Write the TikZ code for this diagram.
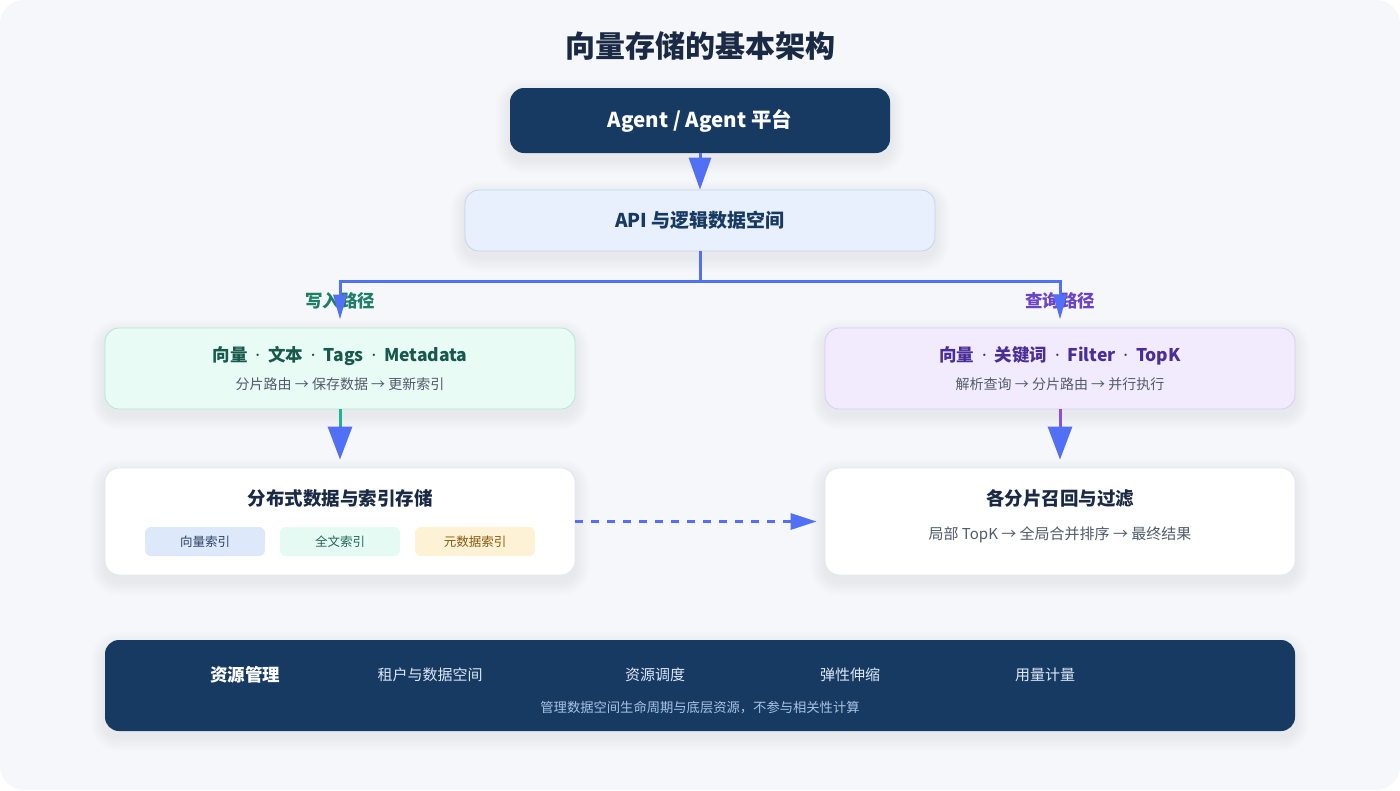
\documentclass[tikz,border=0pt]{standalone}
\usepackage{fontspec}
\setmainfont{Noto Sans CJK SC}
\newfontfamily\lat{Noto Sans}
\usetikzlibrary{arrows.meta,backgrounds}
\definecolor{bgc}{HTML}{F5F7FB}
\definecolor{navy}{HTML}{173A63}
\definecolor{titlec}{HTML}{1B2A44}
\definecolor{arrowc}{HTML}{5170F6}
\definecolor{apifill}{HTML}{E8F0FD}
\definecolor{apiline}{HTML}{C3D4EE}
\definecolor{wfill}{HTML}{E8FBF5}
\definecolor{wline}{HTML}{B5E6D5}
\definecolor{wtitle}{HTML}{17594C}
\definecolor{wlabel}{HTML}{1D7F68}
\definecolor{qfill}{HTML}{F1EBFD}
\definecolor{qline}{HTML}{D8CDF3}
\definecolor{qtitle}{HTML}{4A2D97}
\definecolor{qlabel}{HTML}{6B45C7}
\definecolor{subc}{HTML}{515B6B}
\definecolor{cardline}{HTML}{E2E7EF}
\definecolor{glinec}{HTML}{1DB492}
\definecolor{plinec}{HTML}{8B4FDC}
\definecolor{pillA}{HTML}{DDE8FB}
\definecolor{pillB}{HTML}{E5FAF3}
\definecolor{pillC}{HTML}{FDF1D6}
\definecolor{pillAt}{HTML}{2D3F63}
\definecolor{pillBt}{HTML}{1D6656}
\definecolor{pillCt}{HTML}{8A5A0E}
\definecolor{barlab}{HTML}{DCE7F7}
\definecolor{barsub}{HTML}{A8C3E6}
\newcommand\mkshadow[1]{%
  \foreach \s in {2,4,...,14} {%
    \fill[black,opacity=0.009,rounded corners=14pt+\s*1pt]
      ([shift={(-\s,-\s+6)}]#1.north west) rectangle ([shift={(\s,\s+6)}]#1.south east);}}
\newcommand\dotsep{\hspace{0.45em}{\lat\bfseries ·}\hspace{0.45em}}
\begin{document}
\begin{tikzpicture}[x=1pt,y=-1pt,
  card/.style={rounded corners=14pt,minimum width=470pt,inner sep=0pt,line width=0.8pt},
  arrbig/.style={draw=arrowc,line width=3pt,-{Triangle[length=33pt,width=24pt]}},
  arrsmall/.style={draw=arrowc,line width=3pt,-{Triangle[length=25pt,width=13pt]}},
  arrdash/.style={draw=arrowc,line width=3pt,dash pattern=on 8pt off 8pt,-{Triangle[length=26pt,width=16pt]}},
  pill/.style={rounded corners=6pt,minimum width=120pt,minimum height=29pt,inner sep=0pt,font=\fontsize{12.5}{15}\selectfont},
  boxtitle/.style={font=\bfseries\fontsize{17.5}{20}\selectfont,inner sep=0pt},
  boxsub/.style={font=\fontsize{14}{17}\selectfont,text=subc,inner sep=0pt},
  cardtitle/.style={font=\bfseries\fontsize{18.5}{22}\selectfont,text=titlec,inner sep=0pt},
  barlabel/.style={font=\fontsize{15}{18}\selectfont,text=barlab,inner sep=0pt},
  pathlabel/.style={font=\bfseries\fontsize{17.5}{21}\selectfont,inner sep=0pt}
]
\useasboundingbox (0,0) rectangle (1400,790);

% title
\node[font=\bfseries\fontsize{30}{36}\selectfont,text=titlec] (title) at (700,46) {向量存储的基本架构};

% top boxes
\node[card,fill=navy,minimum width=380pt,minimum height=65pt,text=white,font=\bfseries\fontsize{20.5}{24}\selectfont] (agent) at (700,120.5) {Agent / Agent 平台};
\node[card,fill=apifill,draw=apiline,minimum height=61pt,text=navy,font=\bfseries\fontsize{19}{23}\selectfont] (api) at (700,220.5) {API 与逻辑数据空间};

% write / query boxes
\node[card,fill=wfill,draw=wline,minimum height=81pt] (write) at (340,368.5) {};
\node[boxtitle,text=wtitle] (wt) at (340,356) {向量\dotsep 文本\dotsep Tags\dotsep Metadata};
\node[boxsub] (ws) at (340,384) {分片路由 → 保存数据 → 更新索引};

\node[card,fill=qfill,draw=qline,minimum height=81pt] (query) at (1060,368.5) {};
\node[boxtitle,text=qtitle] (qt) at (1060,356) {向量\dotsep 关键词\dotsep Filter\dotsep TopK};
\node[boxsub] (qs) at (1060,384) {解析查询 → 分片路由 → 并行执行};

% storage / recall boxes
\node[card,fill=white,draw=cardline,minimum height=107pt] (storage) at (340,521.5) {};
\node[cardtitle] (st) at (340,498) {分布式数据与索引存储};
\node[pill,fill=pillA,text=pillAt] (p1) at (205,541.5) {向量索引};
\node[pill,fill=pillB,text=pillBt] (p2) at (340,541.5) {全文索引};
\node[pill,fill=pillC,text=pillCt] (p3) at (475,541.5) {元数据索引};

\node[card,fill=white,draw=cardline,minimum height=107pt] (recall) at (1060,521.5) {};
\node[cardtitle] (rt) at (1060,498) {各分片召回与过滤};
\node[font=\fontsize{15}{18}\selectfont,text=subc,inner sep=0pt] (rs) at (1060,535) {局部 TopK → 全局合并排序 → 最终结果};

% bottom bar
\node[rounded corners=14pt,fill=navy,minimum width=1190pt,minimum height=91pt,inner sep=0pt] (bar) at (700,685.5) {};
\node[font=\bfseries\fontsize{17.5}{21}\selectfont,text=white,inner sep=0pt] (b0) at (245,675) {资源管理};
\node[barlabel] (b1) at (430,675) {租户与数据空间};
\node[barlabel] (b2) at (655,675) {资源调度};
\node[barlabel] (b3) at (850,675) {弹性伸缩};
\node[barlabel] (b4) at (1045,675) {用量计量};
\node[font=\fontsize{13.3}{16}\selectfont,text=barsub,inner sep=0pt] (bs) at (700,708) {管理数据空间生命周期与底层资源，不参与相关性计算};

% background and shadows
\begin{scope}[on background layer]
\fill[white] (0,0) rectangle (1400,790);
\fill[bgc,rounded corners=24pt] (0,0) rectangle (1400,790);
\mkshadow{agent}
\mkshadow{api}
\mkshadow{write}
\mkshadow{query}
\mkshadow{storage}
\mkshadow{recall}
\mkshadow{bar}
\end{scope}

% path labels (under the arrows)
\node[pathlabel,text=wlabel] (wl) at (340,301) {写入路径};
\node[pathlabel,text=qlabel] (ql) at (1060,301) {查询路径};

% connectors
\draw[arrbig,-{Triangle[length=32pt,width=22pt]}] (agent.south) -- (api.north);
\coordinate (br) at (700,281);
\draw[draw=arrowc,line width=3pt] (api.south) -- (br);
\draw[arrsmall,shorten >=8pt] (br) -| (write.north);
\draw[arrsmall,shorten >=8pt] (br) -| (query.north);

\draw[arrbig,shorten >=8pt] (write.south) -- (storage.north);
\draw[draw=glinec,line width=3pt] (write.south) -- ++(0,17);
\draw[arrbig,shorten >=8pt] (query.south) -- (recall.north);
\draw[draw=plinec,line width=3pt] (query.south) -- ++(0,17);

\draw[arrdash,shorten >=8pt] (storage.east) -- (recall.west);
\end{tikzpicture}
\end{document}
